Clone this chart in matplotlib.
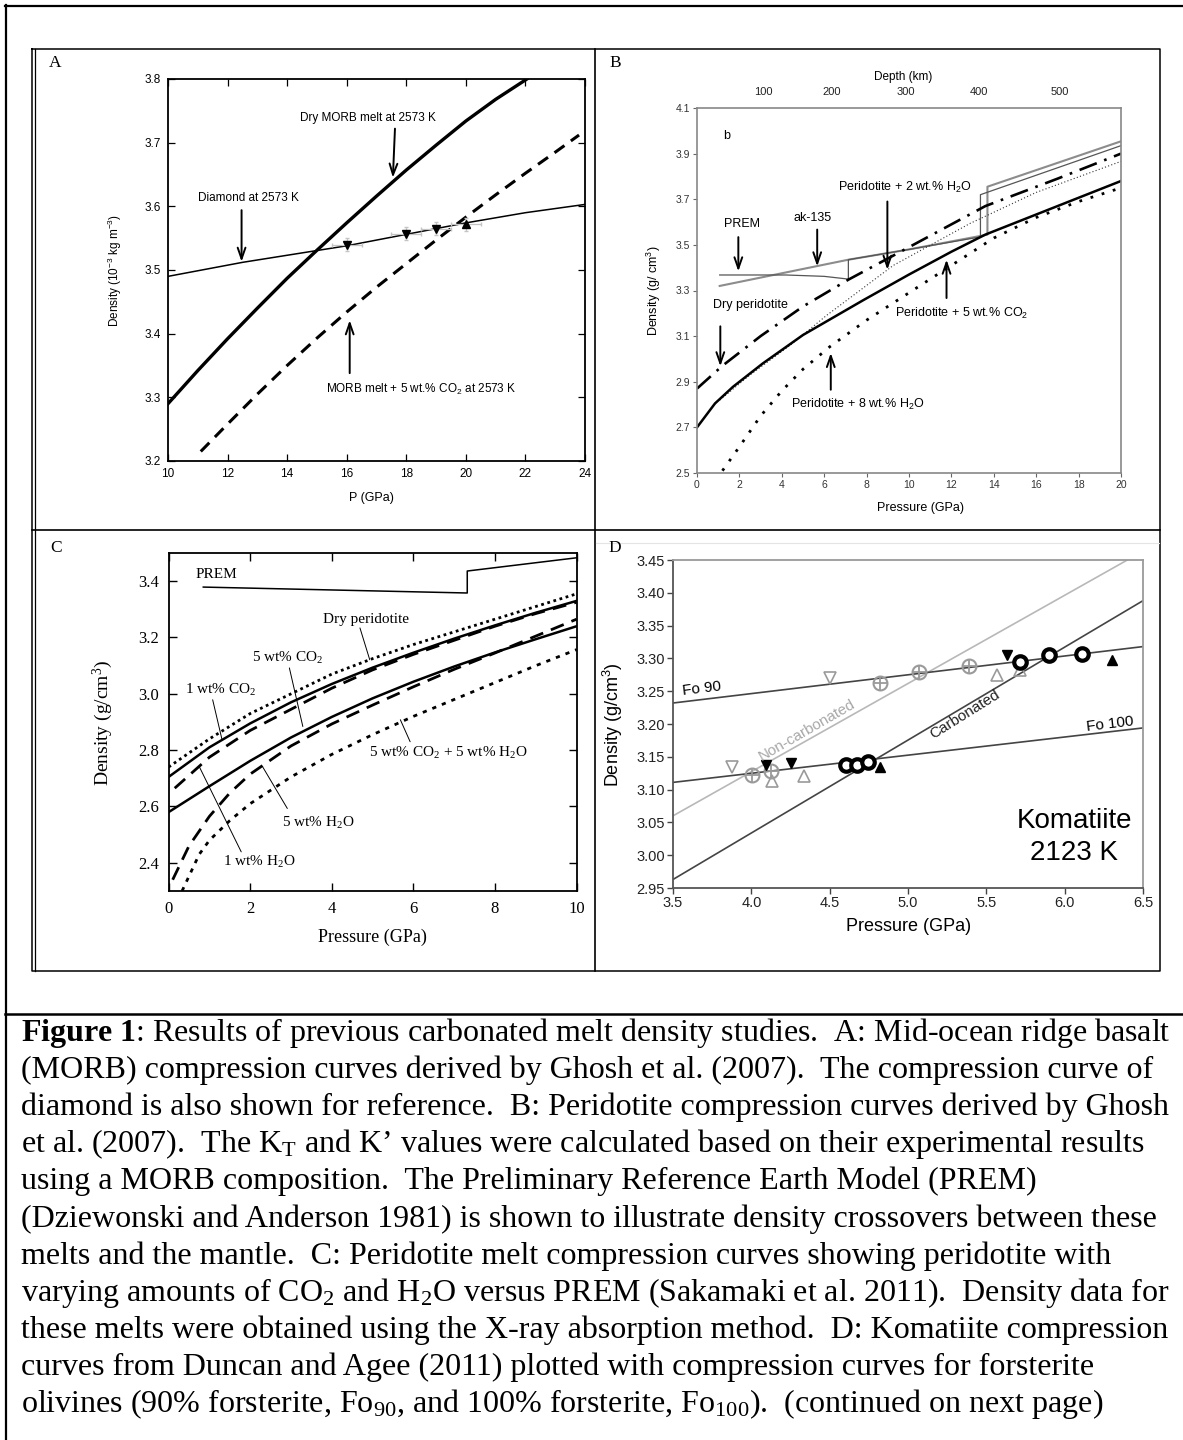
import numpy as np
import matplotlib
matplotlib.use("Agg")
import matplotlib.pyplot as plt

plt.rcParams['font.family'] = 'Liberation Sans'
plt.rcParams['mathtext.fontset'] = 'custom'
plt.rcParams['mathtext.default'] = 'regular'
plt.rcParams['mathtext.rm'] = 'Liberation Serif'
plt.rcParams['mathtext.bf'] = 'Liberation Serif:bold'
plt.rcParams['mathtext.it'] = 'Liberation Serif:italic'
plt.rcParams['mathtext.sf'] = 'Liberation Sans'

SERIF = 'Liberation Serif'

# ---- panel A: MORB (Ghosh et al. 2007) ----
a_dry_p = [10, 11, 12, 13, 14, 15, 16, 17, 18, 19, 20, 21, 22.05]
a_dry_d = [3.29, 3.342, 3.392, 3.44, 3.487, 3.531, 3.574, 3.616, 3.657, 3.696, 3.734, 3.768, 3.80]
a_co2_p = [11.1, 12, 13, 14, 15, 16, 17, 18, 19, 20, 21, 22, 23, 23.8]
a_co2_d = [3.215, 3.258, 3.305, 3.35, 3.393, 3.434, 3.473, 3.51, 3.547, 3.583, 3.618, 3.652, 3.685, 3.712]
a_dia_p = [10, 12.5, 16, 18, 20, 22, 24]
a_dia_d = [3.49, 3.512, 3.538, 3.556, 3.574, 3.59, 3.603]
a_down_p = [16, 18, 19]
a_down_d = [3.54, 3.557, 3.565]
a_up_p = [20]
a_up_d = [3.572]

# ---- panel B: peridotite (Ghosh et al. 2007) ----
b_dry_p = [0, 1.2, 3, 5, 7.15, 10, 13.6, 17, 20]
b_dry_d = [2.87, 2.97, 3.10, 3.23, 3.348, 3.49, 3.67, 3.79, 3.90]
b_h2o2_p = [1.08, 2.5, 4.4, 6.1, 9.26, 12.9, 16, 20]
b_h2o2_d = [2.82, 2.93, 3.06, 3.19, 3.41, 3.595, 3.73, 3.866]
b_co2_p = [0, 0.85, 1.7, 3.1, 5, 7.85, 10, 12, 13.6, 20]
b_co2_d = [2.70, 2.805, 2.878, 2.98, 3.105, 3.258, 3.37, 3.47, 3.545, 3.78]
b_h2o8_p = [1.2, 2, 3, 4, 5, 6.27, 8, 10, 12, 14, 16, 18, 20]
b_h2o8_d = [2.51, 2.615, 2.75, 2.86, 2.955, 3.054, 3.17, 3.29, 3.41, 3.53, 3.62, 3.69, 3.75]
b_prem_p = [1.07, 4.2, 6.0, 7.14, 7.14, 10, 13.37, 13.37, 20]
b_prem_d = [3.368, 3.368, 3.362, 3.35, 3.435, 3.48, 3.535, 3.72, 3.935]
b_ak_p = [1.07, 7.14, 10, 13.7, 13.7, 20]
b_ak_d = [3.32, 3.435, 3.48, 3.545, 3.755, 3.954]
depth_km = ['100', '200', '300', '400', '500']
depth_p = [3.14, 6.37, 9.84, 13.3, 17.1]

# ---- panel C: Sakamaki et al. 2011 ----
c_p = [0, 1, 2, 3, 4, 5, 6, 7, 8, 9, 10]
c_dry_d = [2.74, 2.84, 2.93, 3.00, 3.07, 3.125, 3.175, 3.22, 3.265, 3.31, 3.355]
c_co2_5_d = [2.705, 2.81, 2.895, 2.97, 3.035, 3.093, 3.146, 3.196, 3.243, 3.288, 3.33]
c_co2_1_p = [0.15, 1, 2, 3, 4, 5, 6, 7, 8, 9, 10]
c_co2_1_d = [2.665, 2.775, 2.87, 2.945, 3.02, 3.085, 3.14, 3.19, 3.24, 3.285, 3.325]
c_h2o5_d = [2.58, 2.672, 2.762, 2.845, 2.918, 2.984, 3.043, 3.097, 3.147, 3.194, 3.24]
c_h2o1_p = [0.1, 0.5, 1, 1.5, 2, 3, 4, 5, 6, 7, 8, 9, 10]
c_h2o1_d = [2.34, 2.46, 2.565, 2.648, 2.715, 2.815, 2.893, 2.96, 3.025, 3.087, 3.145, 3.205, 3.265]
c_mix_p = [0.33, 0.75, 1, 1.5, 2, 3, 4, 5, 6, 7, 8, 9, 10]
c_mix_d = [2.30, 2.43, 2.48, 2.55, 2.61, 2.705, 2.785, 2.855, 2.92, 2.98, 3.04, 3.10, 3.157]
c_prem_p = [0.85, 7.32, 7.32, 10]
c_prem_d = [3.379, 3.358, 3.436, 3.483]

# ---- panel D: komatiite (Duncan and Agee 2011) ----
d_line_p = [3.5, 6.5]
d_fo90_d = [3.232, 3.318]
d_fo100_d = [3.111, 3.194]
d_carb_d = [2.963, 3.388]
d_noncarb_p = [3.5, 6.40]
d_noncarb_d = [3.06, 3.45]
d_cplus_p = [4.005, 4.125, 4.82, 5.07, 5.39]
d_cplus_d = [3.123, 3.128, 3.262, 3.28, 3.288]
d_ring_p = [4.607, 4.674, 4.744, 5.713, 5.90, 6.11]
d_ring_d = [3.137, 3.137, 3.142, 3.294, 3.305, 3.306]
d_odown_p = [3.878, 4.503]
d_odown_d = [3.134, 3.27]
d_oup_p = [4.13, 4.337, 5.569, 5.713]
d_oup_d = [3.113, 3.12, 3.274, 3.282]
d_fdown_p = [4.094, 4.253, 5.63]
d_fdown_d = [3.138, 3.141, 3.305]
d_fup_p = [4.82, 6.30]
d_fup_d = [3.134, 3.298]

caption = [
    "$\\mathbf{Figure\\ 1}$: Results of previous carbonated melt density studies.  A: Mid-ocean ridge basalt",
    "(MORB) compression curves derived by Ghosh et al. (2007).  The compression curve of",
    "diamond is also shown for reference.  B: Peridotite compression curves derived by Ghosh",
    "et al. (2007).  The K$_T$ and K\u2019 values were calculated based on their experimental results",
    "using a MORB composition.  The Preliminary Reference Earth Model (PREM)",
    "(Dziewonski and Anderson 1981) is shown to illustrate density crossovers between these",
    "melts and the mantle.  C: Peridotite melt compression curves showing peridotite with",
    "varying amounts of CO$_2$ and H$_2$O versus PREM (Sakamaki et al. 2011).  Density data for",
    "these melts were obtained using the X-ray absorption method.  D: Komatiite compression",
    "curves from Duncan and Agee (2011) plotted with compression curves for forsterite",
    "olivines (90% forsterite, Fo$_{90}$, and 100% forsterite, Fo$_{100}$).  (continued on next page)",
]

W, H = 1183, 1440
fig = plt.figure(figsize=(W / 100, H / 100), dpi=100)


def px_axes(x0, y0, x1, y1):
    return fig.add_axes([x0 / W, 1 - y1 / H, (x1 - x0) / W, (y1 - y0) / H])


def arrow(ax, start, tip, lw=1.4):
    ax.annotate('', xy=tip, xytext=start,
                arrowprops=dict(arrowstyle='->,head_length=0.8,head_width=0.28',
                                lw=lw, color='k', shrinkA=0, shrinkB=0))


def pointer(ax, start, tip):
    ax.annotate('', xy=tip, xytext=start,
                arrowprops=dict(arrowstyle='-', lw=0.7, color='k', shrinkA=0, shrinkB=0))


# overlay for page frame, panel letters and caption
ov = fig.add_axes([0, 0, 1, 1])
ov.set_xlim(0, W)
ov.set_ylim(H, 0)
ov.axis('off')
ov.plot([5, W], [5.7, 5.7], color='k', lw=1.6)
ov.plot([5.7, 5.7], [5, H], color='k', lw=1.6)
ov.plot([5, W], [1014, 1014], color='k', lw=1.8)
ov.plot([32.5, 1160, 1160, 32.5, 32.5], [48.5, 48.5, 971, 971, 48.5], color='k', lw=1.1)
ov.plot([35.2, 35.2], [48.5, 971], color='k', lw=0.9)
ov.plot([595, 595], [48.5, 971], color='k', lw=1.2)
ov.plot([32.5, 1160], [530, 530], color='k', lw=1.2)
ov.plot([596, 1159], [542.7, 542.7], color='#e4e4e4', lw=0.8)
for lab, x, y in [('A', 49, 67), ('B', 609, 67), ('C', 50, 552), ('D', 608, 552)]:
    ov.text(x, y, lab, family=SERIF, fontsize=12.5, va='baseline', ha='left')

# fit caption size to the measured line width
probe = ov.text(0, 0, caption[1], family=SERIF, fontsize=20)
fig.canvas.draw()
cap_fs = 20 * 1130 / probe.get_window_extent().width
probe.remove()
for i, line in enumerate(caption):
    ov.text(21, 1041 + 37.1 * i, line, family=SERIF, fontsize=cap_fs,
            va='baseline', ha='left')

# ---------------- panel A ----------------
axA = px_axes(168, 79, 585, 461)
axA.plot(a_dia_p, a_dia_d, color='k', lw=1.1)
axA.plot(a_dry_p, a_dry_d, color='k', lw=2.4)
axA.plot(a_co2_p, a_co2_d, color='k', lw=2.2, ls=(0, (4, 2.6)))
axA.errorbar(a_down_p + a_up_p, a_down_d + a_up_d, xerr=0.5, yerr=0.01, fmt='none',
             ecolor='#c4c4c4', elinewidth=0.9, capsize=1.5)
axA.plot(a_down_p, a_down_d, 'kv', ms=6)
axA.plot(a_up_p, a_up_d, 'k^', ms=6)
axA.set_xlim(10, 24)
axA.set_ylim(3.2, 3.8)
axA.set_xticks(np.arange(10, 25, 2))
axA.set_yticks(np.arange(3.2, 3.81, 0.1))
axA.set_yticklabels(['%.1f' % v for v in np.arange(3.2, 3.81, 0.1)])
axA.tick_params(direction='in', top=True, right=True, labelsize=8.5, length=5, width=0.9, pad=5)
for s in axA.spines.values():
    s.set_linewidth(1.3)
axA.set_ylabel('Density (10$^{-3}$ kg m$^{-3}$)', fontsize=8.5)
axA.yaxis.set_label_coords(-0.127, 0.5)
axA.set_xlabel('P (GPa)', fontsize=9)
axA.xaxis.set_label_coords(0.488, -0.097)
axA.xaxis.label.set_va('center')
axA.yaxis.label.set_va('center')
axA.text(16.7, 3.738, 'Dry MORB melt at 2573 K', fontsize=8.5, ha='center', va='center')
arrow(axA, (17.62, 3.722), (17.55, 3.645))
axA.text(12.7, 3.613, 'Diamond at 2573 K', fontsize=8.5, ha='center', va='center')
arrow(axA, (12.47, 3.594), (12.47, 3.513))
axA.text(18.5, 3.312, 'MORB melt + 5 wt.% CO$_2$ at 2573 K', fontsize=8.5, ha='center', va='center')
arrow(axA, (16.1, 3.338), (16.1, 3.421))

# ---------------- panel B ----------------
axB = px_axes(697, 108, 1121, 473)
axB.plot(b_ak_p, b_ak_d, color='#8c8c8c', lw=1.5)
axB.plot(b_prem_p, b_prem_d, color='#555555', lw=0.9)
axB.plot(b_dry_p, b_dry_d, color='k', lw=1.9, ls=(0, (7, 3, 1, 3)))
axB.plot(b_h2o2_p, b_h2o2_d, color='#333333', lw=0.8, ls=(0, (1, 2)))
axB.plot(b_co2_p, b_co2_d, color='k', lw=1.8)
axB.plot(b_h2o8_p, b_h2o8_d, color='k', lw=2.0, ls=(0, (1, 3.2)))
axB.set_xlim(0, 20)
axB.set_ylim(2.5, 4.1)
axB.set_xticks(np.arange(0, 21, 2))
yb = np.arange(2.5, 4.11, 0.2)
axB.set_yticks(yb)
axB.set_yticklabels(['%.1f' % v for v in yb])
axB.tick_params(labelsize=7.5, length=3, width=0.8, color='#666666', labelcolor='#333333', pad=2)
for s in axB.spines.values():
    s.set_color('#888888')
    s.set_linewidth(1.2)
axB.set_ylabel('Density (g/ cm$^3$)', fontsize=9)
axB.yaxis.set_label_coords(-0.101, 0.5)
axB.set_xlabel('Pressure (GPa)', fontsize=9)
axB.xaxis.set_label_coords(0.526, -0.096)
axB.xaxis.label.set_va('center')
axB.yaxis.label.set_va('center')
axBt = axB.twiny()
axBt.set_xlim(0, 20)
axBt.set_xticks(depth_p)
axBt.set_xticklabels(depth_km)
axBt.tick_params(length=0, pad=8, labelsize=8, labelcolor='#222222')
for s in axBt.spines.values():
    s.set_visible(False)
axBt.set_xlabel('Depth (km)', fontsize=8.5)
axBt.xaxis.set_label_coords(0.486, 1.085)
axBt.xaxis.label.set_va('center')

axB.text(1.42, 3.976, 'b', fontsize=9, ha='center', va='center')
axB.text(2.13, 3.593, 'PREM', fontsize=9, ha='center', va='center')
arrow(axB, (1.95, 3.534), (1.95, 3.384))
axB.text(5.46, 3.618, 'ak-135', fontsize=9, ha='center', va='center')
arrow(axB, (5.67, 3.567), (5.67, 3.406))
axB.text(9.81, 3.752, 'Peridotite + 2 wt.% H$_2$O', fontsize=9, ha='center', va='center')
arrow(axB, (8.98, 3.69), (8.98, 3.391))
axB.text(2.52, 3.238, 'Dry peridotite', fontsize=9, ha='center', va='center')
arrow(axB, (1.1, 3.143), (1.1, 2.968))
axB.text(12.48, 3.201, 'Peridotite + 5 wt.% CO$_2$', fontsize=9, ha='center', va='center')
arrow(axB, (11.77, 3.267), (11.77, 3.435))
axB.text(7.59, 2.80, 'Peridotite + 8 wt.% H$_2$O', fontsize=9, ha='center', va='center')
arrow(axB, (6.31, 2.865), (6.31, 3.026))

# ---------------- panel C ----------------
axC = px_axes(168.6, 553, 576.6, 891)
axC.plot(c_prem_p, c_prem_d, color='k', lw=1.1)
axC.plot(c_p, c_dry_d, color='k', lw=2.0, ls=(0, (1, 1.3)))
axC.plot(c_p, c_co2_5_d, color='k', lw=1.8)
axC.plot(c_co2_1_p, c_co2_1_d, color='k', lw=2.0, ls=(0, (5, 3)))
axC.plot(c_p, c_h2o5_d, color='k', lw=1.8)
axC.plot(c_h2o1_p, c_h2o1_d, color='k', lw=2.0, ls=(0, (5, 3)))
axC.plot(c_mix_p, c_mix_d, color='k', lw=2.0, ls=(0, (1.5, 2.2)))
axC.set_xlim(0, 10)
axC.set_ylim(2.3, 3.5)
axC.set_xticks(np.arange(0, 11, 2))
yc = np.arange(2.4, 3.41, 0.2)
axC.set_yticks(yc)
axC.set_yticklabels(['%.1f' % v for v in yc])
axC.tick_params(direction='in', top=True, right=True, labelsize=12, length=6, width=1.0,
                pad=7, labelfontfamily=SERIF)
for s in axC.spines.values():
    s.set_linewidth(1.3)
axC.set_ylabel('Density (g/cm$^3$)', fontsize=14, family=SERIF)
axC.yaxis.set_label_coords(-0.16, 0.497)
axC.set_xlabel('Pressure (GPa)', fontsize=13, family=SERIF)
axC.xaxis.set_label_coords(0.5, -0.136)
axC.xaxis.label.set_va('center')
axC.yaxis.label.set_va('center')
cfs = 11
axC.text(1.17, 3.424, 'PREM', fontsize=cfs, family=SERIF, ha='center', va='center')
axC.text(4.84, 3.264, 'Dry peridotite', fontsize=cfs, family=SERIF, ha='center', va='center')
pointer(axC, (4.69, 3.234), (4.93, 3.121))
axC.text(2.91, 3.127, '5 wt% CO$_2$', fontsize=cfs, family=SERIF, ha='center', va='center')
pointer(axC, (2.96, 3.092), (3.29, 2.884))
axC.text(1.27, 3.014, '1 wt% CO$_2$', fontsize=cfs, family=SERIF, ha='center', va='center')
pointer(axC, (1.08, 2.979), (1.31, 2.837))
axC.text(6.85, 2.789, '5 wt% CO$_2$ + 5 wt% H$_2$O', fontsize=cfs, family=SERIF, ha='center', va='center')
pointer(axC, (5.92, 2.83), (5.68, 2.908))
axC.text(3.66, 2.54, '5 wt% H$_2$O', fontsize=cfs, family=SERIF, ha='center', va='center')
pointer(axC, (2.91, 2.593), (2.3, 2.742))
axC.text(2.21, 2.404, '1 wt% H$_2$O', fontsize=cfs, family=SERIF, ha='center', va='center')
pointer(axC, (1.78, 2.439), (0.75, 2.742))

# ---------------- panel D ----------------
axD = px_axes(673, 560, 1143, 888)
axD.plot(d_noncarb_p, d_noncarb_d, color='#b8b8b8', lw=1.2)
axD.plot(d_line_p, d_fo90_d, color='#444444', lw=1.2)
axD.plot(d_line_p, d_fo100_d, color='#444444', lw=1.2)
axD.plot(d_line_p, d_carb_d, color='#444444', lw=1.2)
axD.plot(d_cplus_p, d_cplus_d, 'o', ms=10, mfc='none', mec='#9a9a9a', mew=1.5)
axD.plot(d_cplus_p, d_cplus_d, '+', ms=10, mec='#9a9a9a', mew=1.3)
axD.plot(d_odown_p, d_odown_d, 'v', ms=8, mfc='none', mec='#9a9a9a', mew=1.2)
axD.plot(d_oup_p, d_oup_d, '^', ms=8, mfc='none', mec='#9a9a9a', mew=1.2)
axD.plot(d_ring_p, d_ring_d, 'o', ms=9, mfc='white', mec='k', mew=3)
axD.plot(d_fdown_p, d_fdown_d, 'kv', ms=6.5)
axD.plot(d_fup_p, d_fup_d, 'k^', ms=6.5)
axD.set_xlim(3.5, 6.5)
axD.set_ylim(2.95, 3.45)
xd = np.arange(3.5, 6.51, 0.5)
axD.set_xticks(xd)
axD.set_xticklabels(['%.1f' % v for v in xd])
yd = np.arange(2.95, 3.451, 0.05)
axD.set_yticks(yd)
axD.set_yticklabels(['%.2f' % v for v in yd])
axD.tick_params(labelsize=10.5, length=4, width=1.0, color='#444444', labelcolor='#222222', pad=2)
axD.spines['left'].set_color('#555555')
axD.spines['bottom'].set_color('#555555')
axD.spines['top'].set_color('#9a9a9a')
axD.spines['right'].set_color('#9a9a9a')
for s in axD.spines.values():
    s.set_linewidth(1.3)
axD.set_ylabel('Density (g/cm$^3$)', fontsize=13)
axD.yaxis.set_label_coords(-0.128, 0.497)
axD.set_xlabel('Pressure (GPa)', fontsize=13)
axD.xaxis.set_label_coords(0.501, -0.118)
axD.xaxis.label.set_va('center')
axD.yaxis.label.set_va('center')
axD.text(3.685, 3.2546, 'Fo 90', fontsize=11, rotation=7, ha='center', va='center', rotation_mode='anchor')
axD.text(6.29, 3.20, 'Fo 100', fontsize=11, rotation=7, ha='center', va='center', rotation_mode='anchor')
axD.text(4.354, 3.191, 'Non-carbonated', fontsize=11, color='#a8a8a8', rotation=30,
         ha='center', va='center', rotation_mode='anchor')
axD.text(5.364, 3.214, 'Carbonated', fontsize=11, color='#222222', rotation=32,
         ha='center', va='center', rotation_mode='anchor')
axD.text(6.06, 3.052, 'Komatiite', fontsize=20, ha='center', va='center')
axD.text(6.06, 3.003, '2123 K', fontsize=20, ha='center', va='center')

fig.savefig('out.png', dpi=100)
